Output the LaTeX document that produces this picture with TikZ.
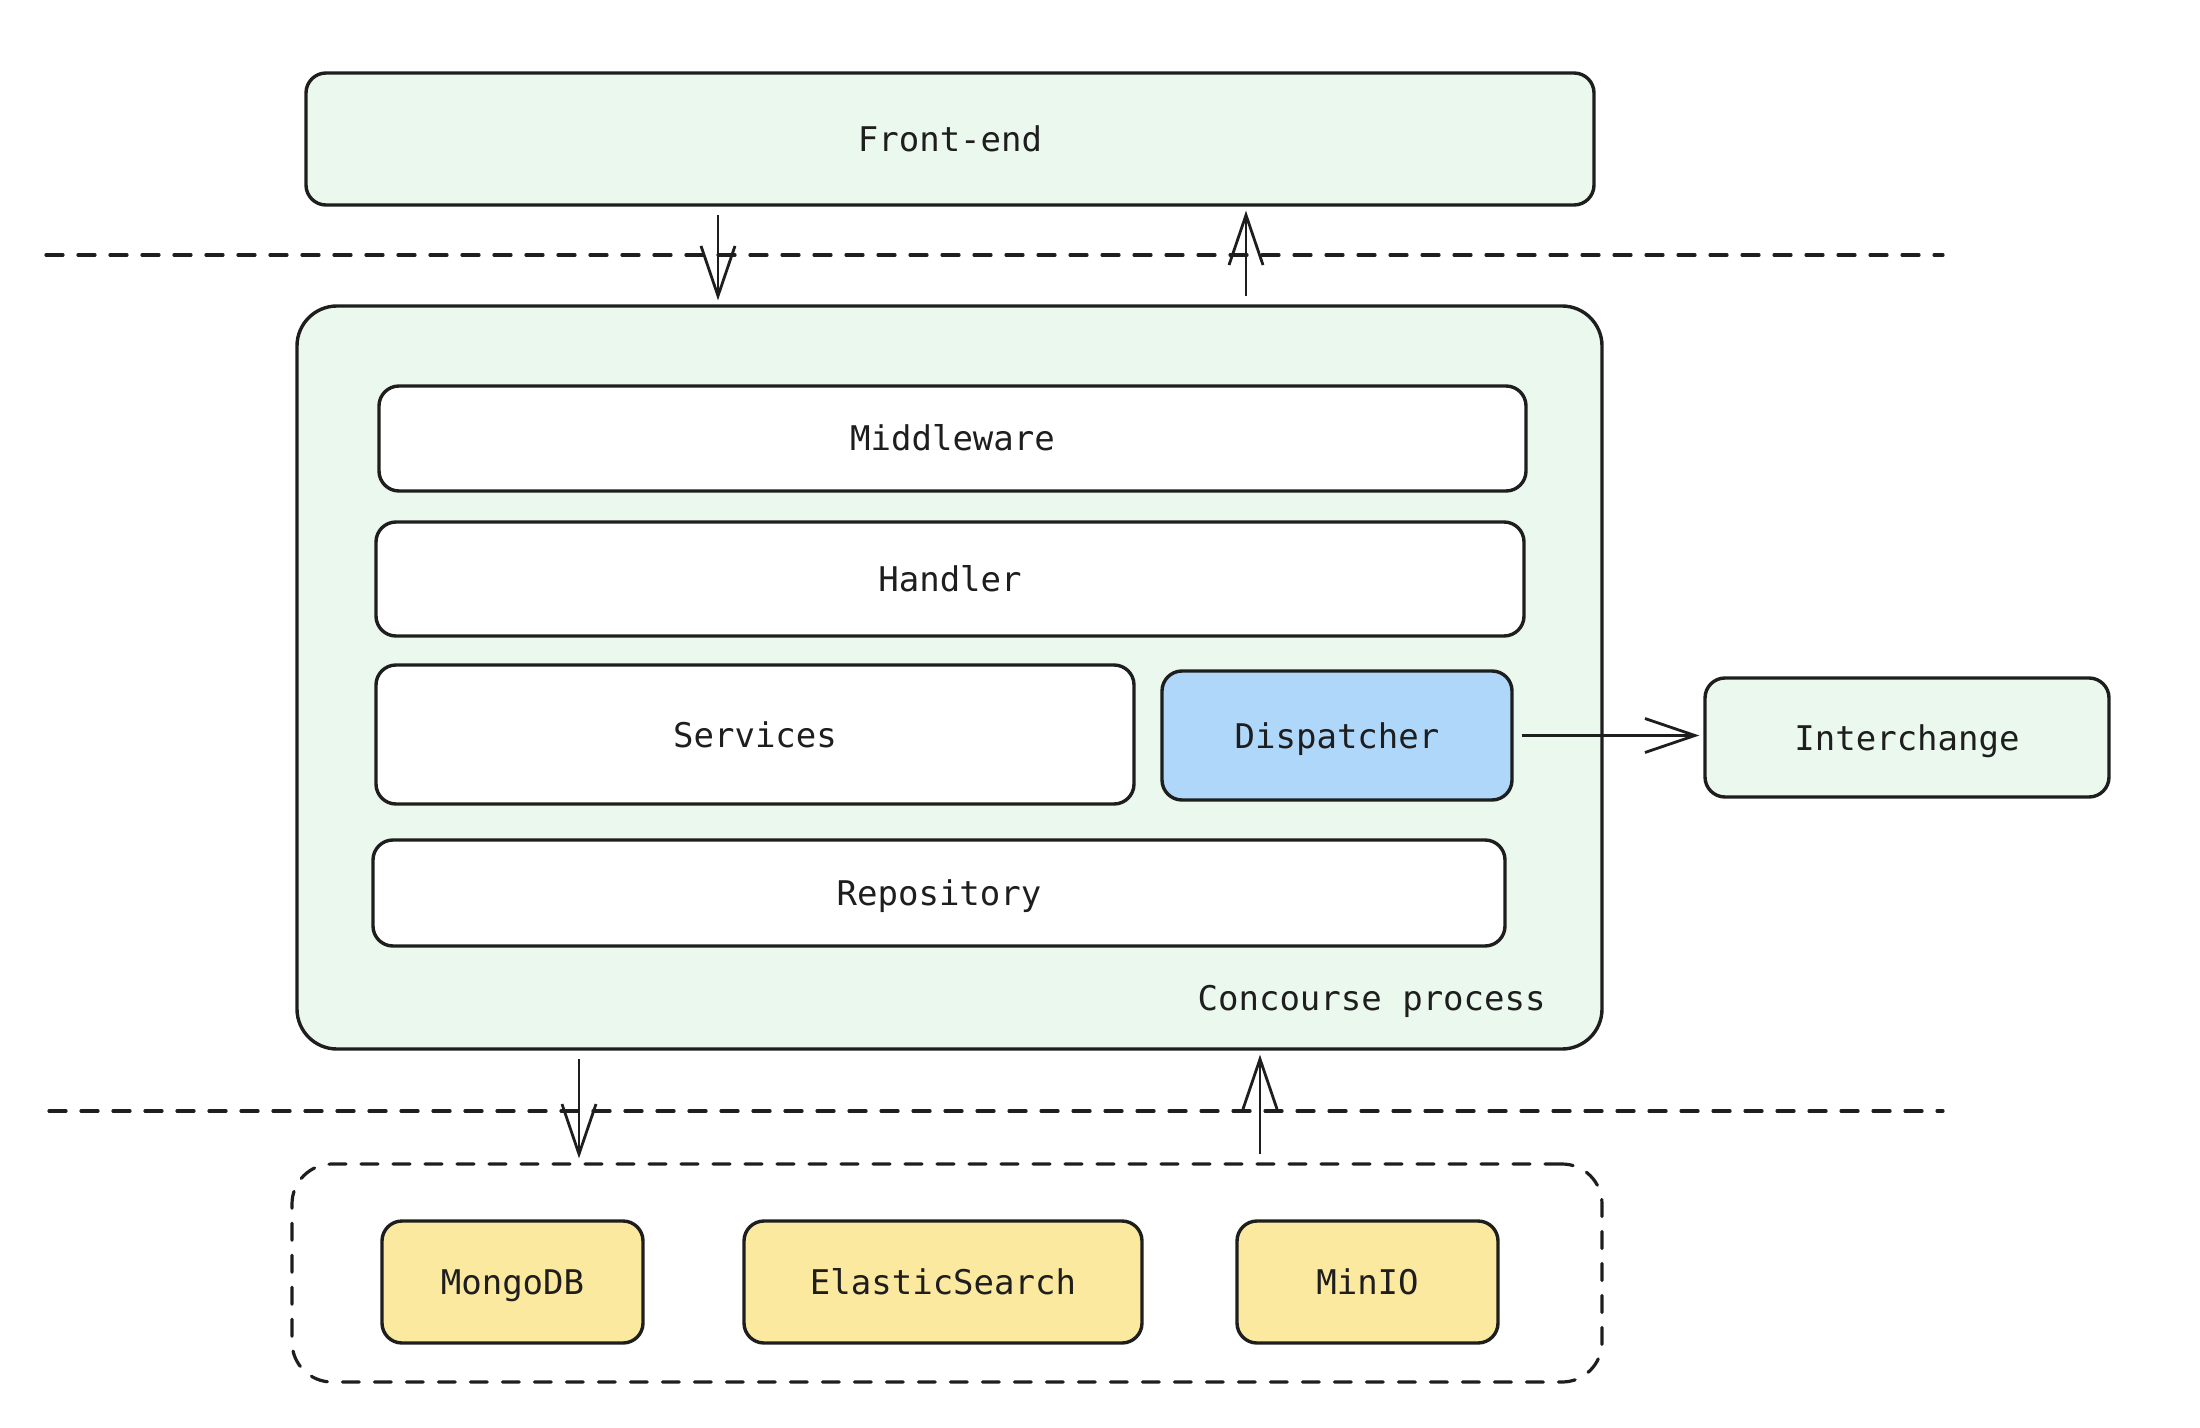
\documentclass[tikz,border=0pt]{standalone}
\usepackage{fontspec}
\setmonofont{DejaVu Sans Mono}
\usetikzlibrary{arrows.meta}
\definecolor{ink}{HTML}{1E1E1E}
\definecolor{paleGreen}{HTML}{EBF8EE}
\definecolor{paleBlue}{HTML}{AFD7FA}
\definecolor{paleYellow}{HTML}{FBE9A0}
\tikzset{
    label text/.style={font=\ttfamily\fontsize{17}{20}\selectfont,text=ink,
        text height=12.5pt,text depth=0pt},
    box/.style={label text,draw=ink,line width=1.7pt,rounded corners=10pt},
    layer/.style={box,fill=white},
    store/.style={box,fill=paleYellow},
    flow/.style={draw=ink,line width=1.4pt,shorten <=4pt,shorten >=2pt,
        -{Straight Barb[length=25pt,width=17pt,line width=1.4pt]}},
    tier/.style={draw=ink,line width=1.6pt,dash pattern=on 8.5pt off 7.5pt,line cap=round}
}
\begin{document}
\begin{tikzpicture}[x=0.5pt,y=-0.5pt]
    \useasboundingbox (0,0) rectangle (2200,1428);
    \node[box,fill=paleGreen,minimum width=644pt,minimum height=66pt] (front) at (950,139) {Front-end};

    \node[box,fill=paleGreen,rounded corners=20pt,minimum width=652.5pt,minimum height=371.5pt] (proc) at (949.5,677.5) {};
    \node[layer,minimum width=573.5pt,minimum height=52.5pt] (middleware) at (952.5,438.5) {Middleware};
    \node[layer,minimum width=574pt,minimum height=57pt] (handler) at (950,579) {Handler};
    \node[layer,minimum width=379pt,minimum height=69.5pt] (services) at (755,734.5) {Services};
    \node[box,fill=paleBlue,minimum width=175pt,minimum height=64.5pt] (dispatcher) at (1337,735.5) {Dispatcher};
    \node[layer,minimum width=566pt,minimum height=53pt] (repo) at (939,893) {Repository};
    \node[label text,anchor=east,inner sep=0pt] (proclabel) at (1546,998) {Concourse process};

    \node[box,fill=paleGreen,minimum width=202pt,minimum height=59.5pt] (interchange) at (1907,737.5) {Interchange};

    \node[tier,rounded corners=20pt,minimum width=655pt,minimum height=109pt] (storage) at (947,1273) {};
    \node[store,minimum width=130.5pt,minimum height=61pt] (mongo) at (512.5,1282) {MongoDB};
    \node[store,minimum width=199pt,minimum height=61pt] (elastic) at (943,1282) {ElasticSearch};
    \node[store,minimum width=130.5pt,minimum height=61pt] (minio) at (1367.5,1282) {MinIO};

    % tier separators
    \coordinate (sepA) at (46,255);
    \coordinate (sepB) at (1943,255);
    \coordinate (sepC) at (49,1111);
    \coordinate (sepD) at (1943,1111);
    \draw[tier] (sepA) -- (sepB);
    \draw[tier] (sepC) -- (sepD);

    % connectors
    \coordinate (req) at (718,0);
    \coordinate (resp) at (1246,0);
    \coordinate (query) at (579,0);
    \coordinate (result) at (1260,0);
    \draw[flow] (front.south -| req) -- (proc.north -| req);
    \draw[flow] (proc.north -| resp) -- (front.south -| resp);
    \draw[flow] (proc.south -| query) -- (storage.north -| query);
    \draw[flow] (storage.north -| result) -- (proc.south -| result);
    \draw[flow] (dispatcher.east) -- (interchange.west |- dispatcher.east);
\end{tikzpicture}
\end{document}
